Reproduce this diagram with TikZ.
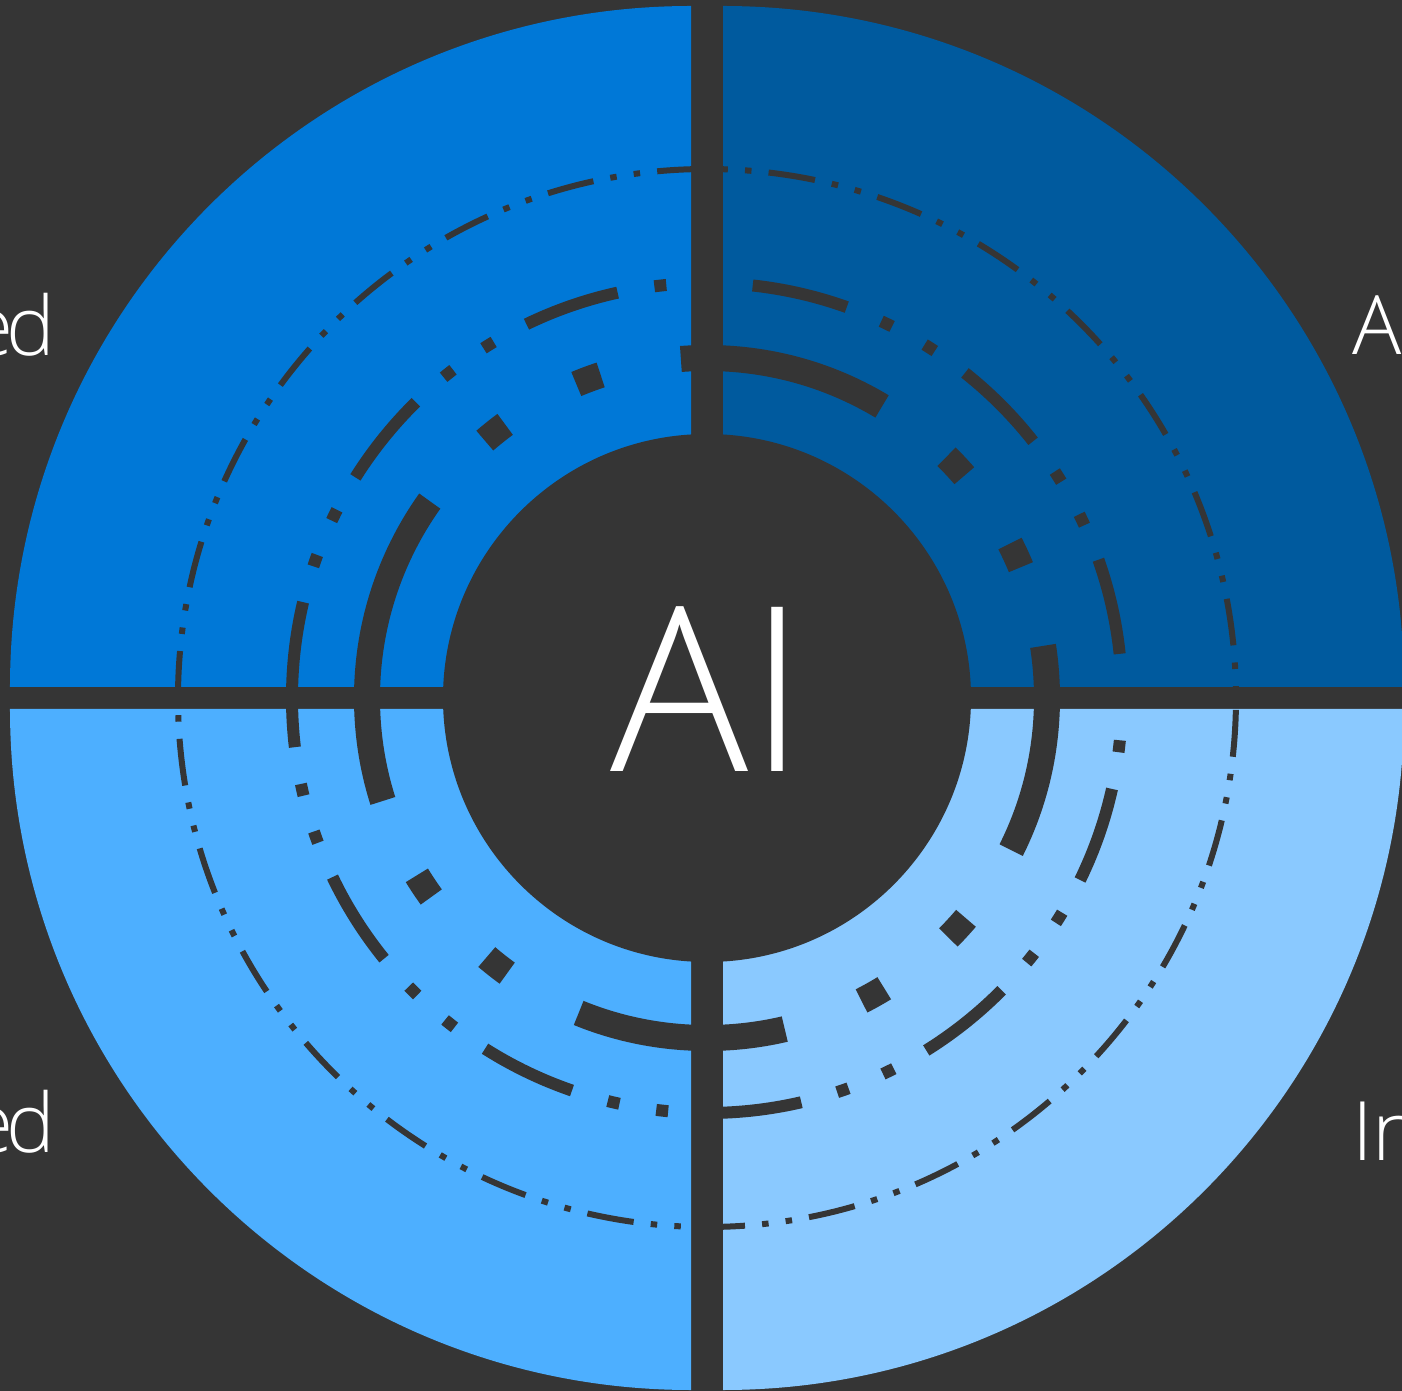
\documentclass[tikz,border=0pt]{standalone}
\usepackage{fontspec}
\setmainfont{Open Sans}[UprightFont={* Light}]
\usepackage{tikz}
\definecolor{bgdark}{RGB}{53,53,53}
\definecolor{segblue}{RGB}{0,120,215}
\definecolor{segdark}{RGB}{0,90,158}
\definecolor{segmid}{RGB}{77,175,255}
\definecolor{seglight}{RGB}{138,201,255}

\begin{document}
\begin{tikzpicture}[x=1pt, y=1pt,
  ringline/.style={draw=bgdark, line cap=butt},
  sidetext/.style={text=white, inner sep=0pt, font=\fontsize{82}{90}\selectfont}]

% Frame
\fill[bgdark] (-707,-693) rectangle (695,698);
\useasboundingbox (-707,-693) rectangle (695,698);
\clip (-707,-693) rectangle (695,698);

% Quarter segments
\fill[segblue] (-16,11) -- ++(-681,0) arc[start angle=180, end angle=90, radius=681pt] -- cycle;
\fill[segdark] (16,11) -- ++(0,681) arc[start angle=90, end angle=0, radius=681pt] -- cycle;
\fill[segmid] (-16,-11) -- ++(0,-681) arc[start angle=270, end angle=180, radius=681pt] -- cycle;
\fill[seglight] (16,-11) -- ++(681,0) arc[start angle=0, end angle=-90, radius=681pt] -- cycle;

% Rings
\draw[ringline, line width=6pt, dash pattern=on 47pt off 17.2pt on 6.5pt off 17.2pt on 6.5pt off 17.2pt]
  (180:529pt) arc[start angle=180, end angle=-180, radius=529pt];
\draw[ringline, line width=12pt, dash pattern=on 96.7pt off 37.3pt on 12pt off 37.3pt on 12pt off 37.3pt]
  (180:415pt) arc[start angle=180, end angle=-180, radius=415pt];
\draw[ringline, line width=26pt, dash pattern=on 210pt off 82pt on 26pt off 82pt on 26pt off 82pt]
  (180:340pt) arc[start angle=180, end angle=-180, radius=340pt];

% Centre
\node[circle, fill=bgdark, minimum size=528pt, inner sep=0pt] (hub) at (0,0) {};
\node[text=white, inner sep=0pt, anchor=base, font=\fontsize{230}{240}\selectfont] (ai) at (1.5,-73.5) {AI};

% Side labels
\node[sidetext, anchor=base east] (edtop) at (-652,342) {e\kern-8pt d};
\node[sidetext, anchor=base west] (atop) at (645,343) {A};
\node[sidetext, anchor=base east] (edlow) at (-652,-454) {e\kern-8pt d};
\node[sidetext, anchor=base west] (inlow) at (645,-462) {In};

\end{tikzpicture}
\end{document}
